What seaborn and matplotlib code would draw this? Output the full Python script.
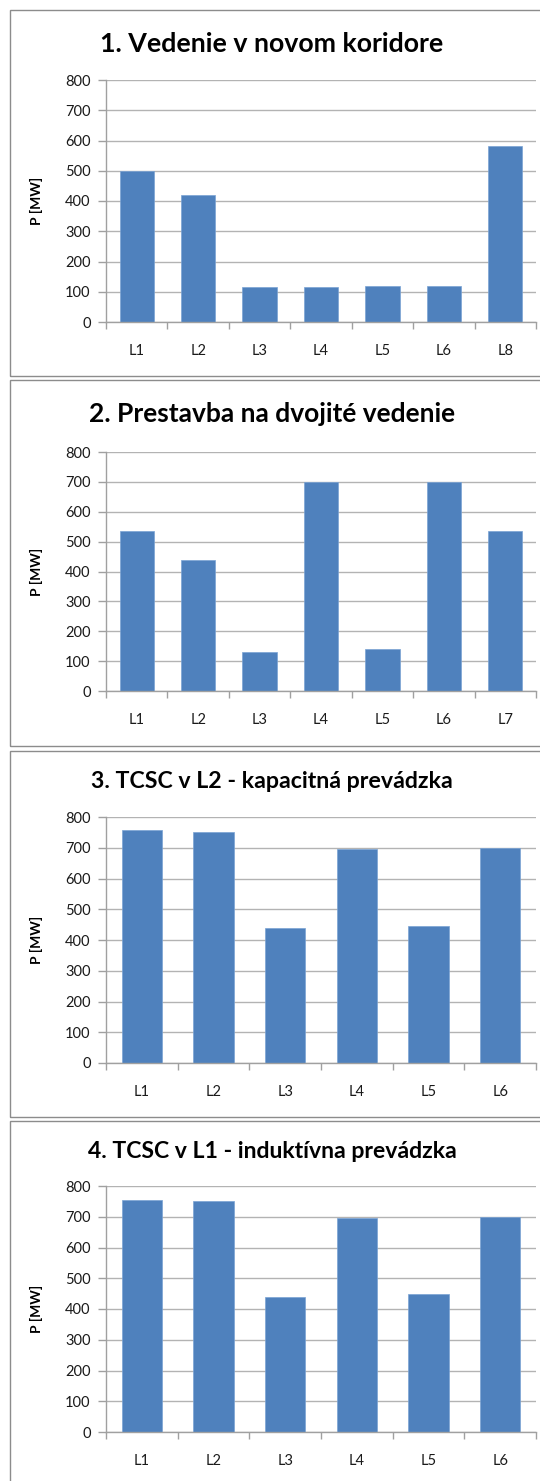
import matplotlib
matplotlib.use("Agg")
import matplotlib.pyplot as plt
import numpy as np
import pandas as pd
import seaborn as sns
from matplotlib.patches import Rectangle

# Power flows on transmission lines for four network variants
titles = [
    "1. Vedenie v novom koridore",
    "2. Prestavba na dvojité vedenie",
    "3. TCSC v L2 - kapacitná prevádzka",
    "4. TCSC v L1 - induktívna prevádzka",
]
lines_1 = ["L1", "L2", "L3", "L4", "L5", "L6", "L8"]
power_1 = [500, 420, 116, 116, 120, 118, 582]
lines_2 = ["L1", "L2", "L3", "L4", "L5", "L6", "L7"]
power_2 = [535, 439, 132, 698, 140, 701, 535]
lines_3 = ["L1", "L2", "L3", "L4", "L5", "L6"]
power_3 = [758, 750, 439, 696, 447, 699]
lines_4 = ["L1", "L2", "L3", "L4", "L5", "L6"]
power_4 = [756, 750, 439, 696, 449, 700]
y_label = "P [MW]"
y_ticks = [0, 100, 200, 300, 400, 500, 600, 700, 800]

panels = [(lines_1, power_1), (lines_2, power_2), (lines_3, power_3), (lines_4, power_4)]

sns.set_style("white")
plt.rcParams["font.family"] = ["Lato", "DejaVu Sans"]

W, H = 540, 1481
fig = plt.figure(figsize=(W / 100, H / 100), dpi=100)
fig.patch.set_facecolor("white")


def fx(px):
    return px / W


def fy(py):
    return 1 - py / H


# pixel layout: panel frames, plot areas, title baselines
frames = [(10, 10, 570, 376), (10, 380, 570, 746), (10, 751, 570, 1117), (10, 1121, 570, 1520)]
plot_boxes = [(106, 80, 536, 322), (106, 452, 536, 691), (106, 817, 536, 1063), (106, 1186, 536, 1432)]
title_base = [52, 421.7, 788, 1157.7]
title_size = [19.3, 19.0, 16.7, 16.6]

BAR = "#4F81BD"
GRID = "#b3b3b3"
AXIS = "#a0a0a0"
FRAME = "#8c8c8c"

for i, ((cats, vals), title) in enumerate(zip(panels, titles)):
    l, t, r, b = frames[i]
    fig.add_artist(Rectangle((fx(l), fy(b)), (r - l) / W, (b - t) / H,
                             transform=fig.transFigure, fill=False,
                             edgecolor=FRAME, linewidth=1.0))
    fig.text(fx(272), fy(title_base[i]), title, ha="center", va="baseline",
             fontsize=title_size[i], fontweight="bold", color="black")

    l, t, r, b = plot_boxes[i]
    ax = fig.add_axes([fx(l), fy(b), (r - l) / W, (b - t) / H])
    df = pd.DataFrame({"vedenie": cats, "P": vals})
    sns.barplot(data=df, x="vedenie", y="P", ax=ax, color=BAR, saturation=1,
                width=0.56, edgecolor="#7aa3d4", linewidth=0.5)
    n = len(cats)
    ax.set_xlim(-0.5, n - 0.5)
    ax.set_ylim(0, 800)
    ax.set_yticks(y_ticks)
    ax.yaxis.grid(True, color=GRID, linewidth=1.0)
    ax.xaxis.grid(False)
    ax.set_axisbelow(True)
    for s in ("top", "right"):
        ax.spines[s].set_visible(False)
    for s in ("left", "bottom"):
        ax.spines[s].set_color(AXIS)
        ax.spines[s].set_linewidth(1.0)
    ax.tick_params(axis="y", which="major", left=True, length=6, width=1.0,
                   color=AXIS, labelsize=10.5, pad=5, labelcolor="#1a1a1a")
    ax.set_xticks(range(n))
    ax.set_xticks(np.arange(-0.5, n, 1.0), minor=True)
    ax.tick_params(axis="x", which="major", length=0, pad=16, labelsize=10.5,
                   labelcolor="#1a1a1a")
    ax.tick_params(axis="x", which="minor", bottom=True, length=5, width=1.0,
                   color=AXIS)
    ax.set_xlabel("")
    ax.set_ylabel(y_label, fontsize=10, fontweight="bold", color="black")
    ax.yaxis.set_label_coords((43 - l) / (r - l), 0.5)

fig.savefig("out.png", dpi=100, facecolor="white")
